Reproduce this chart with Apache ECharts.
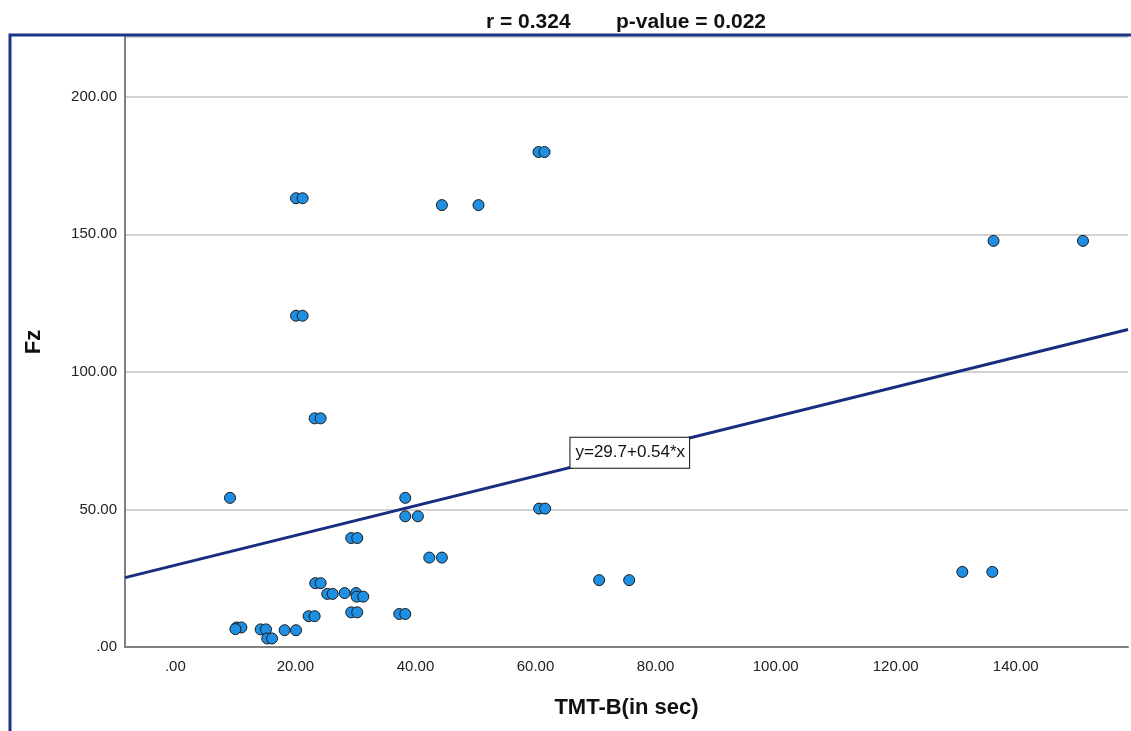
<!DOCTYPE html>
<html>
<head>
<meta charset="utf-8">
<script src="https://cdn.jsdelivr.net/npm/echarts@6/dist/echarts.min.js"></script>
<style>
  html, body { margin: 0; padding: 0; background: #fff; }
  #chart { width: 1131px; height: 731px; }
</style>
</head>
<body>
<div id="chart"></div>
<script>
// TMT-B (sec) vs Fz
const tmtB = [9.1, 38.3, 23.2, 24.2, 38.3, 40.4, 29.3, 30.3, 42.3, 44.4,
              23.3, 24.2, 25.3, 26.2, 28.2, 30.1, 30.2, 31.3, 29.3, 30.3,
              37.3, 38.3, 22.2, 23.2, 10.2, 11.0, 10.0, 14.2, 15.1, 15.3,
              16.1, 18.2, 20.1, 20.1, 21.2, 44.4, 50.5, 60.5, 61.5, 20.1,
              21.2, 60.6, 61.6, 70.6, 75.6, 131.1, 136.1, 136.3, 151.2]
const fz = [54.2, 54.2, 83.1, 83.1, 47.5, 47.5, 39.6, 39.6, 32.5, 32.5,
            23.2, 23.2, 19.3, 19.3, 19.6, 19.6, 18.3, 18.3, 12.6, 12.6,
            12.0, 12.0, 11.2, 11.2, 7.1, 7.1, 6.5, 6.4, 6.4, 3.1,
            3.1, 6.1, 6.1, 163.1, 163.1, 160.6, 160.6, 179.9, 179.9, 120.4,
            120.4, 50.3, 50.3, 24.3, 24.3, 27.3, 27.3, 147.6, 147.6]

// fit line ends (at the axis edges) and where its label sits
const fitX = [-8.39, 158.7]
const fitY = [25.2, 115.4]
const eqText = 'y=29.7+0.54*x'
const eqAt = [75.7, 70.6]

const rText = 'r = 0.324'
const pText = 'p-value = 0.022'
const xName = 'TMT-B(in sec)'
const yName = 'Fz'

const xStep = 20
const yStep = 50

function fmt(v) {
    if (v === 0) return '.00'
    return v.toFixed(2)
}

let myChart = echarts.init(document.getElementById('chart'))
let font = '"Liberation Sans", Arial, sans-serif'

let option = {
    backgroundColor: '#fff',
    animation: false,
    title: [
        { text: rText, left: 481, top: 7, textStyle: { fontFamily: font, fontSize: 21, fontWeight: 'bold', color: '#111' } },
        { text: pText, left: 611, top: 7, textStyle: { fontFamily: font, fontSize: 21, fontWeight: 'bold', color: '#111' } }
    ],
    grid: { left: 125, top: 37, right: 0, bottom: 84 },
    xAxis: {
        type: 'value',
        min: fitX[0],
        max: fitX[1],
        splitNumber: 8,
        name: xName,
        nameLocation: 'middle',
        nameGap: 50,
        nameTextStyle: { fontFamily: font, fontSize: 22, fontWeight: 'bold', color: '#111' },
        axisLine: { onZero: false, lineStyle: { color: '#808080', width: 2 } },
        axisTick: { show: false },
        splitLine: { show: false },
        axisLabel: {
            fontFamily: font, fontSize: 15, color: '#222', margin: 12,
            formatter: v => (Math.abs(v % xStep) < 1e-6 ? fmt(v) : '')
        }
    },
    yAxis: {
        type: 'value',
        min: 0,
        max: 221.7,
        interval: yStep,
        name: yName,
        nameLocation: 'middle',
        nameRotate: 90,
        nameGap: 80,
        nameTextStyle: { fontFamily: font, fontSize: 22, fontWeight: 'bold', color: '#111' },
        axisLine: { show: true, onZero: false, lineStyle: { color: '#808080', width: 2 } },
        axisTick: { show: false },
        splitLine: { lineStyle: { color: '#d2d2d2', width: 2 } },
        axisLabel: {
            fontFamily: font, fontSize: 15, color: '#222', margin: 8,
            formatter: v => (Math.abs(v % yStep) < 1e-6 ? fmt(v) : '')
        }
    },
    series: [
        {
            type: 'line',
            z: 2,
            data: fitX.map((x, i) => [x, fitY[i]]),
            symbol: 'none',
            lineStyle: { color: '#1a2c80', width: 3 }
        },
        {
            type: 'scatter',
            z: 3,
            data: tmtB.map((x, i) => [x, fz[i]]),
            symbol: 'circle',
            symbolSize: 11,
            itemStyle: { color: '#1e8fe2', borderColor: '#1a1a1a', borderWidth: 1, opacity: 1 },
            markPoint: {
                symbol: 'circle',
                symbolSize: 1,
                itemStyle: { color: 'rgba(0,0,0,0)' },
                label: {
                    show: true, position: 'inside', formatter: eqText,
                    fontFamily: font, fontSize: 17, color: '#111',
                    backgroundColor: '#fff', borderColor: '#111', borderWidth: 1,
                    padding: [5, 4, 5, 5], lineHeight: 20
                },
                data: [{ coord: eqAt }]
            }
        }
    ],
    graphic: [
        {
            type: 'rect',
            silent: true,
            z: 100,
            shape: { x: 10, y: 35, width: 1200, height: 800 },
            style: { fill: 'none', stroke: '#1c3586', lineWidth: 3 }
        }
    ]
}
myChart.setOption(option)
</script>
</body>
</html>
